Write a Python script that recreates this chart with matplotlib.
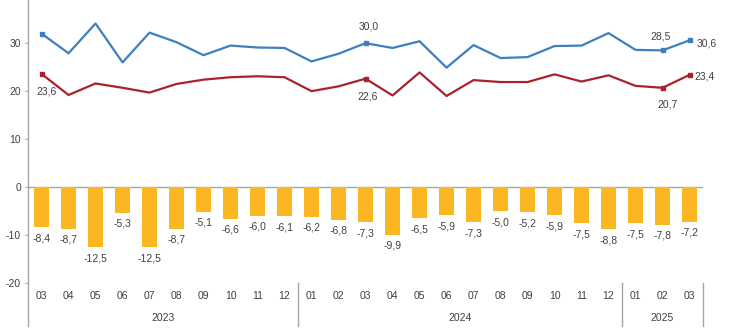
import matplotlib
matplotlib.use("Agg")
import matplotlib.pyplot as plt
from matplotlib import font_manager
import numpy as np

# ── Data: monthly foreign trade, billion USD ─────────────────────────
months = ["03", "04", "05", "06", "07", "08", "09", "10", "11", "12",
          "01", "02", "03", "04", "05", "06", "07", "08", "09", "10", "11", "12",
          "01", "02", "03"]
years = ["2023", "2024", "2025"]
year_sizes = [10, 12, 3]

imports = [32.0, 27.9, 34.1, 26.0, 32.2, 30.2, 27.5, 29.5, 29.1, 29.0,
           26.2, 27.8, 30.0, 29.0, 30.4, 24.9, 29.6, 26.9, 27.1, 29.4, 29.5, 32.1,
           28.6, 28.5, 30.6]
exports = [23.6, 19.2, 21.6, 20.7, 19.7, 21.5, 22.4, 22.9, 23.1, 22.9,
           20.0, 21.0, 22.6, 19.1, 23.9, 19.0, 22.3, 21.9, 21.9, 23.5, 22.0, 23.3,
           21.1, 20.7, 23.4]
balance = [-8.4, -8.7, -12.5, -5.3, -12.5, -8.7, -5.1, -6.6, -6.0, -6.1,
           -6.2, -6.8, -7.3, -9.9, -6.5, -5.9, -7.3, -5.0, -5.2, -5.9, -7.5, -8.8,
           -7.5, -7.8, -7.2]

# points that carry a value label
labelled = [0, 12, 23, 24]

# ── Palette ──────────────────────────────────────────────────────────
BLUE = "#3D7FBF"
RED = "#A8232B"
GOLD = "#FBB722"
TEXT = "#404040"
AXIS = "#A6A6A6"

available = {f.name for f in font_manager.fontManager.ttflist}
FONT = "Liberation Sans Narrow" if "Liberation Sans Narrow" in available else "Liberation Sans"
plt.rcParams["font.family"] = FONT


def fmt(v):
    return f"{v:.1f}".replace(".", ",")


fig = plt.figure(figsize=(7.30, 3.33), dpi=100, facecolor="white")
ax = fig.add_axes([0.0384, 0.150, 0.9247, 0.850])

x = np.arange(len(months))

ax.bar(x, balance, width=0.56, color=GOLD, zorder=2)
ax.axhline(0, color=AXIS, lw=1.0, zorder=1)

ax.plot(x, imports, color=BLUE, lw=1.6, marker="s", ms=3.5,
        markevery=labelled, zorder=3)
ax.plot(x, exports, color=RED, lw=1.6, marker="s", ms=3.5,
        markevery=labelled, zorder=3)

# bar value labels under each bar
for xi, v in zip(x, balance):
    ax.annotate(fmt(v), (xi, v), xytext=(0, -8), textcoords="offset points",
                ha="center", va="center", fontsize=7.5, color=TEXT)

# line value labels: (series, index, dx, dy, ha)
line_labels = [
    (exports, 0, 3.6, -13, "center"),
    (imports, 12, 2, 12, "center"),
    (exports, 12, 1.5, -12.7, "center"),
    (imports, 23, -1.5, 10, "center"),
    (exports, 23, 3.4, -12, "center"),
    (imports, 24, 5, -2.2, "left"),
    (exports, 24, 3.6, -1, "left"),
]
for series, i, dx, dy, ha in line_labels:
    ax.annotate(fmt(series[i]), (x[i], series[i]), xytext=(dx, dy),
                textcoords="offset points", ha=ha, va="center",
                fontsize=7.5, color=TEXT)

ax.set_xlim(-0.5, len(months) - 0.5)
ax.set_ylim(-20, 39)
ax.set_yticks([-20, -10, 0, 10, 20, 30])
ax.set_yticklabels(["-20", "-10", "0", "10", "20", "30"])
ax.set_xticks(x)
ax.set_xticklabels(months)

ax.tick_params(axis="y", length=2, color=AXIS, labelsize=7.5, labelcolor=TEXT, pad=3)
ax.tick_params(axis="x", length=0, labelsize=7.5, labelcolor=TEXT, pad=6)

for side in ["top", "right", "bottom"]:
    ax.spines[side].set_visible(False)
ax.spines["left"].set_color(AXIS)
ax.spines["left"].set_linewidth(1.0)

# year groups with separators under the month labels
bounds = np.concatenate([[0], np.cumsum(year_sizes)]) - 0.5
for b in bounds:
    ax.plot([b, b], [0, -0.15], color=AXIS, lw=1.0,
            transform=ax.get_xaxis_transform(), clip_on=False)
for year, lo, hi in zip(years, bounds[:-1], bounds[1:]):
    ax.text((lo + hi) / 2, -0.124, year, ha="center", va="center",
            fontsize=7.5, color=TEXT, transform=ax.get_xaxis_transform())

fig.savefig("out.png", dpi=100, facecolor="white")
